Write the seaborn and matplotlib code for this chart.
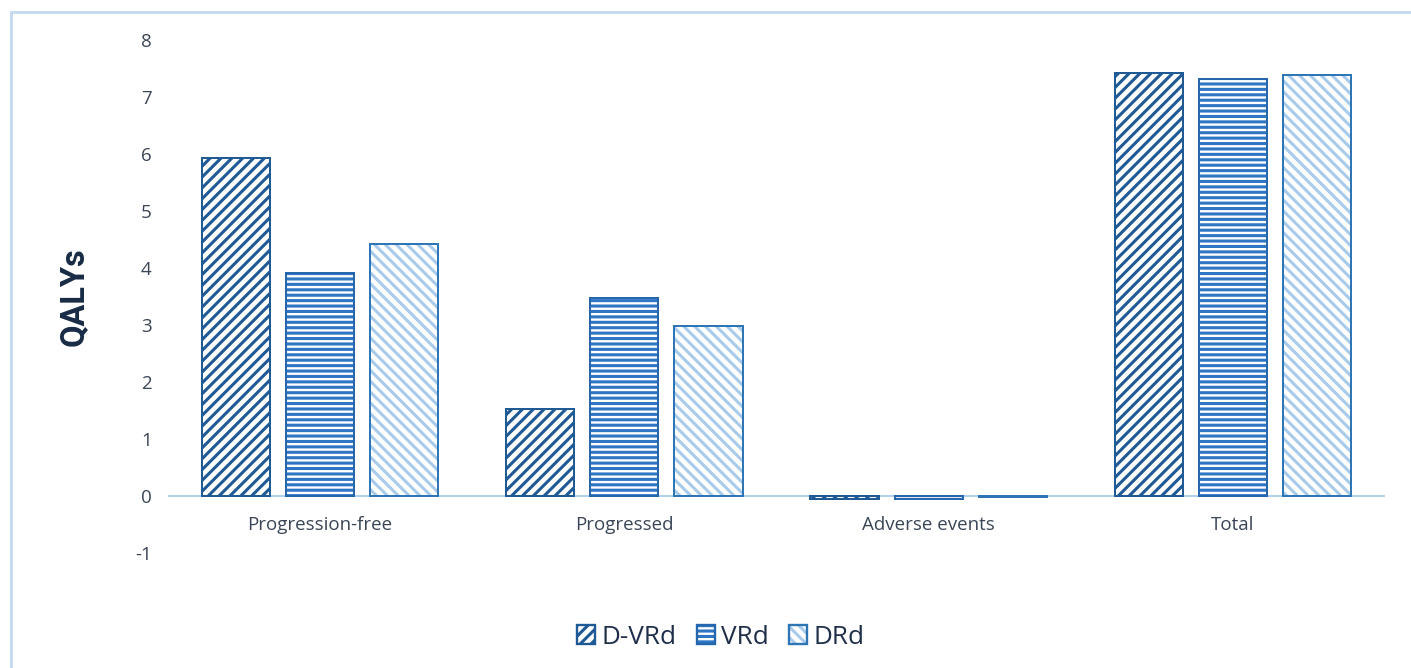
import matplotlib
matplotlib.use("Agg")
import matplotlib.pyplot as plt
from matplotlib.patches import Patch, Rectangle
from matplotlib.legend_handler import HandlerTuple
import seaborn as sns
import pandas as pd

# QALYs by health state and regimen
categories = ["Progression-free", "Progressed", "Adverse events", "Total"]
regimens = ["D-VRd", "VRd", "DRd"]
d_vrd = [5.93, 1.53, -0.05, 7.42]
vrd = [3.91, 3.47, -0.06, 7.32]
drd = [4.42, 2.99, -0.02, 7.39]
y_ticks = [-1, 0, 1, 2, 3, 4, 5, 6, 7, 8]

df = pd.DataFrame({
    "category": categories * 3,
    "regimen": [r for r in regimens for _ in categories],
    "qaly": d_vrd + vrd + drd,
})

hatch_colors = {"D-VRd": "#1F5A96", "VRd": "#2E75C4", "DRd": "#A9CBEB"}
edge_colors = {"D-VRd": "#1F5A96", "VRd": "#2566AE", "DRd": "#2E75B6"}
hatches = {"D-VRd": "////", "VRd": "----", "DRd": "\\\\\\\\"}

sns.set_theme(style="white")
plt.rcParams["font.family"] = ["Open Sans", "DejaVu Sans"]
plt.rcParams["hatch.linewidth"] = 1.7

DPI = 130
fig = plt.figure(figsize=(1411 / DPI, 668 / DPI), dpi=DPI)
ax = fig.add_axes([168 / 1411, 1 - 553 / 668, (1385 - 168) / 1411, (553 - 40) / 668])

# hatched fill layer
sns.barplot(data=df, x="category", y="qaly", hue="regimen", order=categories,
            hue_order=regimens, palette=hatch_colors, width=0.83, gap=0.19,
            errorbar=None, legend=False, ax=ax, linewidth=0)
for cont, reg in zip(ax.containers, regimens):
    for p in cont:
        p.set_facecolor("white")
        p.set_edgecolor(hatch_colors[reg])
        p.set_hatch(hatches[reg])
        p.set_linewidth(0)

# outline layer
sns.barplot(data=df, x="category", y="qaly", hue="regimen", order=categories,
            hue_order=regimens, palette=edge_colors, width=0.83, gap=0.19,
            errorbar=None, legend=False, ax=ax, fill=False, linewidth=1.1)

ax.set_xlim(-0.5, 3.5)
ax.set_ylim(-1, 8)
ax.set_yticks(y_ticks)
ax.set_yticklabels([str(t) for t in y_ticks])
ax.axhline(0, color="#A8CBEA", lw=1.0, zorder=0.5)
for s in ax.spines.values():
    s.set_visible(False)
# category labels sit just under the zero line
ax.spines["bottom"].set_position(("data", 0))
ax.tick_params(axis="both", length=0, labelsize=10.4, colors="#3A4556")
ax.tick_params(axis="y", pad=9)
ax.tick_params(axis="x", pad=11)
ax.set_xlabel("")
ax.set_ylabel("QALYs", fontsize=18, fontweight="bold", color="#172B45",
              family=["Roboto", "DejaVu Sans"], labelpad=25)

# legend
handles = []
for reg in regimens:
    handles.append((Patch(facecolor="white", edgecolor=hatch_colors[reg],
                          hatch=hatches[reg], lw=0),
                    Patch(fill=False, edgecolor=edge_colors[reg], lw=1.3)))
fig.legend(handles, regimens, handler_map={tuple: HandlerTuple(ndivide=1)},
           loc="center", bbox_to_anchor=(721 / 1411, 1 - 637 / 668), ncol=3,
           frameon=False, fontsize=14.5, handlelength=0.7, handleheight=0.7,
           handletextpad=0.25, columnspacing=0.75, labelcolor="#1F2F4A")

# chart frame
fig.patches.append(Rectangle((11 / 1411, -0.1), 1.2, 1 - 12 / 668 + 0.1,
                             transform=fig.transFigure, fill=False,
                             edgecolor="#C5DAF0", lw=1.6, zorder=0))

fig.savefig("out.png", dpi=DPI, facecolor="white")
